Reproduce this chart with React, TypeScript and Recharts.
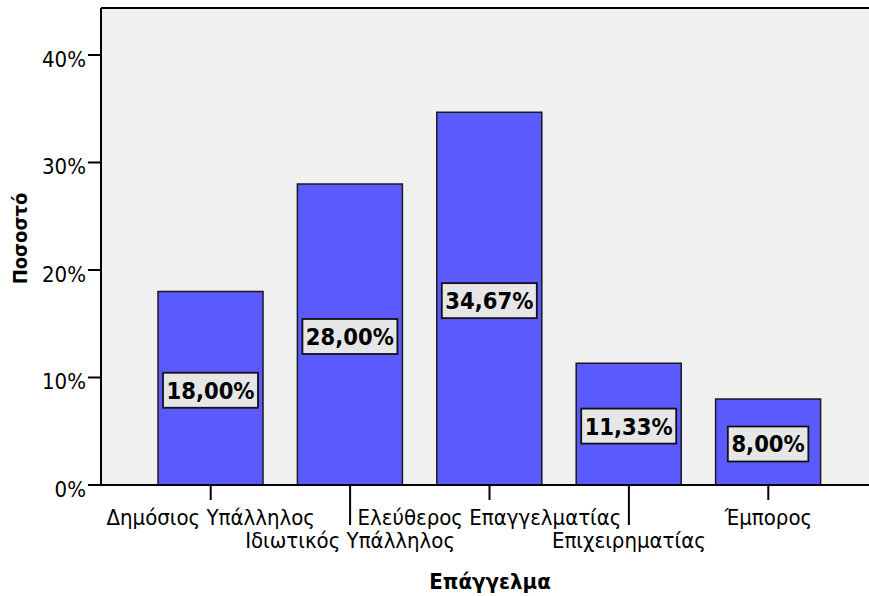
import { BarChart, Bar, XAxis, YAxis, CartesianGrid, LabelList, ReferenceLine } from "recharts";

const categories = [
  "Δημόσιος Υπάλληλος",
  "Ιδιωτικός Υπάλληλος",
  "Ελεύθερος Επαγγελματίας",
  "Επιχειρηματίας",
  "Έμπορος",
];
const percents = [18.0, 28.0, 34.67, 11.33, 8.0];
const yTicks = [0, 10, 20, 30, 40];
const yMax = 44.37;

const data = categories.map((name, i) => ({ name, value: percents[i] }));

const FONT = '"DejaVu Sans Condensed", "DejaVu Sans", sans-serif';

function XTick(props: any) {
  const { x, y, payload, index } = props;
  const low = index % 2 === 1;
  return (
    <g>
      <line x1={x} x2={x} y1={y} y2={y + (low ? 40 : 15)} stroke="#000" strokeWidth={2} />
      <text
        x={x}
        y={y + (low ? 63 : 40)}
        textAnchor="middle"
        fill="#000"
        fontSize={22}
        fontFamily={FONT}
        style={{ fontStretch: "condensed" }}
      >
        {payload.value}
      </text>
    </g>
  );
}

function ValueBox(props: any) {
  const { x, y, width, height, value } = props;
  const text = Number(value).toFixed(2).replace(".", ",") + "%";
  const cx = x + width / 2;
  const cy = y + height / 2 + 2;
  const w = text.length * 14.5 + 8;
  const h = 35;
  return (
    <g>
      <rect x={cx - w / 2} y={cy - h / 2} width={w} height={h} fill="#E6E6E6" stroke="#111" strokeWidth={1.8} />
      <text
        x={cx}
        y={cy + 8.5}
        textAnchor="middle"
        fill="#000"
        fontWeight="bold"
        fontSize={23.5}
        fontFamily={FONT}
        style={{ fontStretch: "condensed" }}
      >
        {text}
      </text>
    </g>
  );
}

function XTitle(props: any) {
  const { viewBox } = props;
  return (
    <text
      x={viewBox.x + viewBox.width / 2 + 5}
      y={viewBox.y + 104}
      textAnchor="middle"
      fill="#000"
      fontWeight="bold"
      fontSize={22}
      fontFamily={FONT}
      style={{ fontStretch: "condensed" }}
    >
      Επάγγελμα
    </text>
  );
}

function YTitle(props: any) {
  const { viewBox } = props;
  const x = viewBox.x + 27;
  const y = viewBox.y + viewBox.height / 2 - 8;
  return (
    <text
      x={x}
      y={y}
      transform={`rotate(-90 ${x} ${y})`}
      textAnchor="middle"
      fill="#000"
      fontWeight="bold"
      fontSize={20}
      fontFamily={FONT}
      style={{ fontStretch: "condensed" }}
    >
      Ποσοστό
    </text>
  );
}

export default function App() {
  return (
    <div style={{ position: "absolute", left: 0, top: 0, width: 869, height: 596, background: "#fff" }}>
      <BarChart width={869} height={596} data={data} margin={{ top: 8, right: 0, bottom: 0, left: 0 }}>
        <CartesianGrid fill="#F0F0F0" horizontal={false} vertical={false} />
        <XAxis
          dataKey="name"
          height={111}
          interval={0}
          padding={{ left: 40, right: 31 }}
          tickSize={0}
          tickMargin={0}
          tickLine={false}
          axisLine={{ stroke: "#000", strokeWidth: 2 }}
          tick={<XTick />}
          label={<XTitle />}
        />
        <YAxis
          width={101}
          domain={[0, yMax]}
          ticks={yTicks}
          tickFormatter={(v: number) => `${v}%`}
          tickSize={13}
          tickMargin={2}
          tickLine={{ stroke: "#000", strokeWidth: 2 }}
          axisLine={{ stroke: "#000", strokeWidth: 2 }}
          tick={{ fill: "#000", fontSize: 22, fontFamily: FONT, dy: 4, style: { fontStretch: "condensed" } }}
          label={<YTitle />}
        />
        <ReferenceLine y={yMax} stroke="#000" strokeWidth={2} />
        <Bar dataKey="value" barSize={105} fill="#5A5AFF" stroke="#1a1a1a" strokeWidth={1.5} isAnimationActive={false}>
          <LabelList dataKey="value" content={<ValueBox />} />
        </Bar>
      </BarChart>
    </div>
  );
}
